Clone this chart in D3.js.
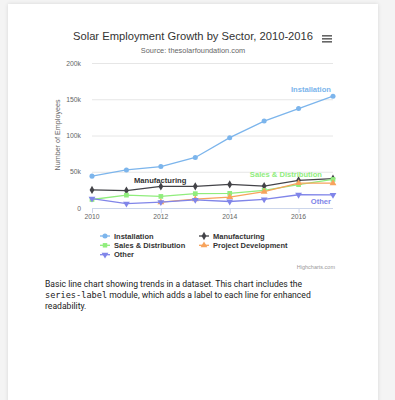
<!DOCTYPE html>
<html>
<head>
<meta charset="utf-8">
<script src="https://cdn.jsdelivr.net/npm/d3@7"></script>
<style>
  html, body { margin: 0; padding: 0; background: #f4f4f4; }
  body { width: 395px; height: 400px; overflow: hidden; position: relative; }
  .card {
    position: absolute; left: 8px; top: 4px; width: 370px; height: 420px;
    background: #fff; box-shadow: 0 0 4px rgba(0,0,0,0.12);
  }
  svg { position: absolute; left: 0; top: 0; }
  .desc {
    position: absolute; left: 45px; top: 279px; width: 276px;
    font-family: Roboto, "Noto Sans", sans-serif; font-size: 8.6px; line-height: 11px; color: #222;
  }
  .desc code { font-family: "DejaVu Sans Mono", "Liberation Mono", monospace; font-size: 8.6px; }
</style>
</head>
<body>
<div class="card"></div>
<svg id="chart" width="395" height="400"></svg>
<div class="desc">Basic line chart showing trends in a dataset. This chart includes the <code>series-label</code> module, which adds a label to each line for enhanced readability.</div>
<script>
const years = [2010, 2011, 2012, 2013, 2014, 2015, 2016, 2017];
const installation = [43934, 52503, 57177, 69658, 97031, 119931, 137133, 154175];
const manufacturing = [24916, 24064, 29742, 29851, 32490, 30282, 38121, 40434];
const salesDistribution = [11744, 17722, 16005, 19771, 20185, 24377, 32147, 39387];
const projectDevelopment = [null, null, 7988, 12169, 15112, 22452, 34400, 34227];
const other = [12908, 5948, 8105, 11248, 8989, 11816, 18274, 18111];
const yTicks = [0, 50000, 100000, 150000, 200000];
const xTicks = [2010, 2012, 2014, 2016];

const series = [
  { name: "Installation", values: installation, color: "#7cb5ec", symbol: d3.symbolCircle },
  { name: "Manufacturing", values: manufacturing, color: "#434348", symbol: d3.symbolDiamond },
  { name: "Sales & Distribution", values: salesDistribution, color: "#90ed7d", symbol: d3.symbolSquare },
  { name: "Project Development", values: projectDevelopment, color: "#f7a35c", symbol: d3.symbolTriangle },
  { name: "Other", values: other, color: "#8085e9", symbol: "down" }
];

const font = "'Liberation Sans', Arial, sans-serif";
const svg = d3.select("#chart");

const x = d3.scaleLinear().domain([2010, 2017]).range([92, 333]);
const y = d3.scaleLinear().domain([0, 200000]).range([208, 63]);

// title
svg.append("text")
  .attr("x", 193).attr("y", 40)
  .attr("text-anchor", "middle")
  .style("font-family", font).style("font-size", "11.2px").style("fill", "#333")
  .text("Solar Employment Growth by Sector, 2010-2016");

svg.append("text")
  .attr("x", 193).attr("y", 53)
  .attr("text-anchor", "middle")
  .style("font-family", font).style("font-size", "7.4px").style("fill", "#666")
  .text("Source: thesolarfoundation.com");

// menu icon
[0, 3, 6].forEach(o => {
  svg.append("rect").attr("x", 322).attr("y", 35 + o).attr("width", 10).attr("height", 1.6)
    .attr("fill", "#666");
});

// grid + y axis
svg.append("g").selectAll("line")
  .data(yTicks.slice(1))
  .join("line")
  .attr("x1", 92).attr("x2", 333)
  .attr("y1", d => y(d) + 0.5).attr("y2", d => y(d) + 0.5)
  .attr("stroke", "#e6e6e6").attr("stroke-width", 1);

svg.append("g").selectAll("text")
  .data(yTicks)
  .join("text")
  .attr("x", 81).attr("y", d => y(d) + 2.5)
  .attr("text-anchor", "end")
  .style("font-family", font).style("font-size", "6.8px").style("fill", "#666")
  .text(d => d === 0 ? "0" : (d / 1000) + "k");

svg.append("text")
  .attr("transform", "translate(60,135) rotate(-90)")
  .attr("text-anchor", "middle")
  .style("font-family", font).style("font-size", "7.2px").style("fill", "#666")
  .text("Number of Employees");

// x axis
svg.append("line")
  .attr("x1", 92).attr("x2", 333).attr("y1", 208.5).attr("y2", 208.5)
  .attr("stroke", "#ccd6eb");
svg.append("g").selectAll("line")
  .data(xTicks)
  .join("line")
  .attr("x1", d => x(d) + 0.5).attr("x2", d => x(d) + 0.5)
  .attr("y1", 208.5).attr("y2", 213)
  .attr("stroke", "#ccd6eb");
svg.append("g").selectAll("text")
  .data(xTicks)
  .join("text")
  .attr("x", d => x(d)).attr("y", 219)
  .attr("text-anchor", "middle")
  .style("font-family", font).style("font-size", "6.8px").style("fill", "#666")
  .text(d => d);

function marker(s, size) {
  if (s.symbol === "down") {
    return d3.symbol().type(d3.symbolTriangle).size(size)();
  }
  return d3.symbol().type(s.symbol).size(size)();
}

const line = d3.line()
  .defined(d => d.v != null)
  .x(d => x(d.year)).y(d => y(d.v));

series.forEach(s => {
  const pts = years.map((yr, i) => ({ year: yr, v: s.values[i] }));
  svg.append("path")
    .datum(pts)
    .attr("d", line)
    .attr("fill", "none")
    .attr("stroke", s.color)
    .attr("stroke-width", 1.3);
  svg.append("g").selectAll("path")
    .data(pts.filter(d => d.v != null))
    .join("path")
    .attr("d", marker(s, s.symbol === d3.symbolSquare ? 22 : 20))
    .attr("transform", d => `translate(${x(d.year)},${y(d.v)})` + (s.symbol === "down" ? " rotate(180)" : ""))
    .attr("fill", s.color);
});

// series labels
const seriesLabels = [
  { text: "Installation", color: "#7cb5ec", x: 331, y: 92, anchor: "end" },
  { text: "Manufacturing", color: "#333333", x: 134, y: 183, anchor: "start" },
  { text: "Sales & Distribution", color: "#90ed7d", x: 322, y: 177, anchor: "end" },
  { text: "Other", color: "#8085e9", x: 331, y: 204, anchor: "end" }
];
svg.append("g").selectAll("text")
  .data(seriesLabels)
  .join("text")
  .attr("x", d => d.x).attr("y", d => d.y)
  .attr("text-anchor", d => d.anchor)
  .style("font-family", font).style("font-size", "7.6px").style("font-weight", "bold")
  .style("fill", d => d.color)
  .text(d => d.text);

// legend
const legendPos = [[100, 236], [199, 236], [100, 245.3], [199, 245.3], [100, 254.7]];
series.forEach((s, i) => {
  const [lx, ly] = legendPos[i];
  const g = svg.append("g");
  g.append("line").attr("x1", lx).attr("x2", lx + 10).attr("y1", ly).attr("y2", ly)
    .attr("stroke", s.color).attr("stroke-width", 1.3);
  g.append("path")
    .attr("d", marker(s, 20))
    .attr("transform", `translate(${lx + 5},${ly})` + (s.symbol === "down" ? " rotate(180)" : ""))
    .attr("fill", s.color);
  g.append("text")
    .attr("x", lx + 14).attr("y", ly + 2.7)
    .style("font-family", font).style("font-size", "7.5px").style("font-weight", "bold")
    .style("fill", "#333")
    .text(s.name);
});

svg.append("text")
  .attr("x", 335).attr("y", 269)
  .attr("text-anchor", "end")
  .style("font-family", font).style("font-size", "5.5px").style("fill", "#999")
  .text("Highcharts.com");
</script>
</body>
</html>
